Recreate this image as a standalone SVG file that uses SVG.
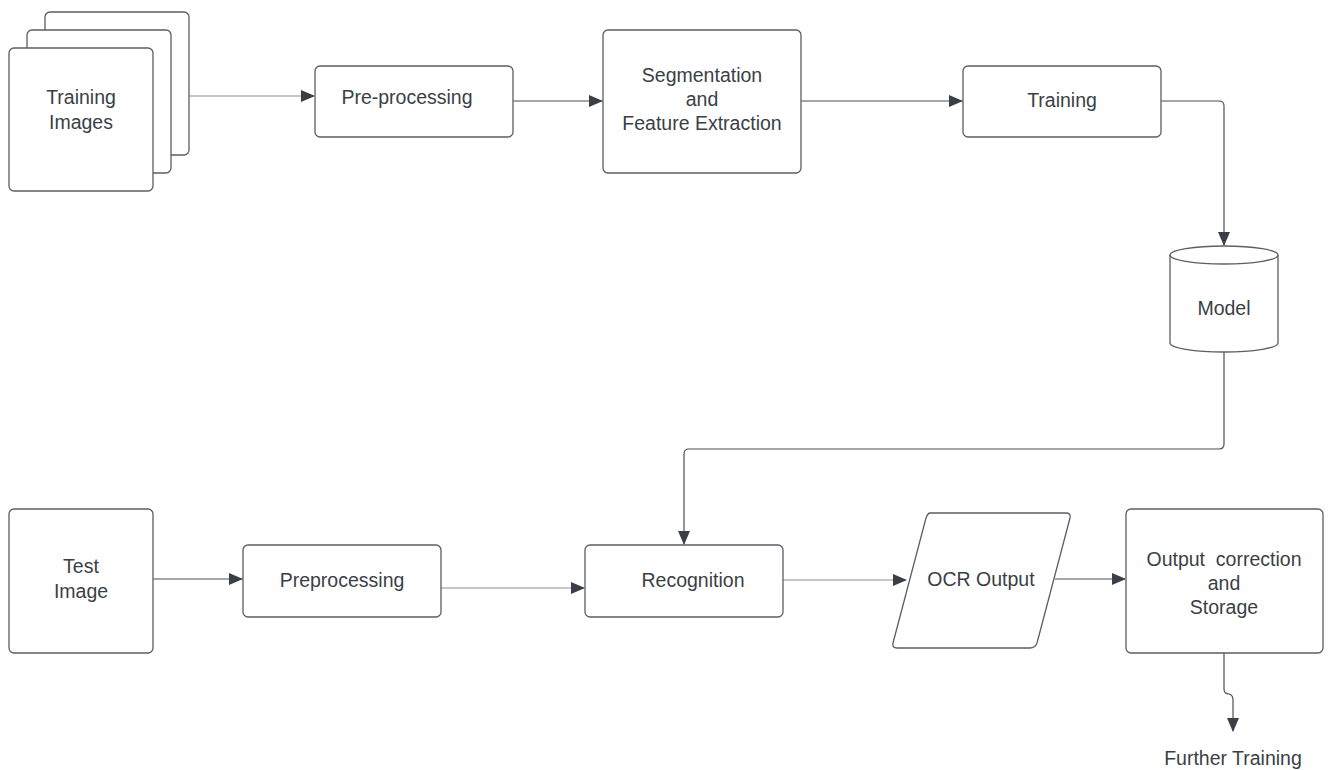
<svg xmlns="http://www.w3.org/2000/svg" width="1328" height="770" viewBox="0 0 1328 770">
<defs>
<style>
.box{fill:#fff;stroke:#5a5e66;stroke-width:1.3}
.t{font-family:"Liberation Sans",Arial,sans-serif;font-size:19.5px;fill:#3a3f47;text-anchor:middle}
.c{fill:none;stroke:#4a4f57;stroke-width:1.2}
.ct{fill:none;stroke:#8a8e95;stroke-width:1.2}
</style>
<marker id="ah" markerWidth="14" markerHeight="12" refX="13" refY="6" orient="auto" markerUnits="userSpaceOnUse">
<path d="M0,0 L14,6 L0,12 Z" fill="#3a3f47"/>
</marker>
</defs>
<rect width="1328" height="770" fill="#fff"/>
<g id="connectors">
<path class="ct" d="M189,96 H314" marker-end="url(#ah)"/>
<path class="c" d="M513,101 H602" marker-end="url(#ah)"/>
<path class="c" d="M801,101 H962" marker-end="url(#ah)"/>
<path class="c" d="M1161,101 H1219 Q1224,101 1224,106 V245" marker-end="url(#ah)"/>
<path class="c" d="M1224,352 V444 Q1224,449 1219,449 H689 Q684,449 684,454 V544" marker-end="url(#ah)"/>
<path class="c" d="M153,579 H242" marker-end="url(#ah)"/>
<path class="ct" d="M441,588 H584" marker-end="url(#ah)"/>
<path class="ct" d="M783,580 H906" marker-end="url(#ah)"/>
<path class="c" d="M1055,579 H1125" marker-end="url(#ah)"/>
<path class="c" d="M1224,653 V689 Q1224,694 1229,694 Q1233,695 1233,700 V731" marker-end="url(#ah)"/>
</g>
<g id="training-images">
<rect class="box" x="45" y="12" width="144" height="143" rx="5"/>
<rect class="box" x="27" y="30" width="144" height="143" rx="5"/>
<rect class="box" x="9" y="48" width="144" height="143" rx="5"/>
<text class="t" x="81" y="104">Training</text>
<text class="t" x="81" y="129">Images</text>
</g>
<g id="pre-processing">
<rect class="box" x="315" y="66" width="198" height="71" rx="5"/>
<text class="t" x="407" y="104">Pre-processing</text>
</g>
<g id="segmentation">
<rect class="box" x="603" y="30" width="198" height="143" rx="5"/>
<text class="t" x="702" y="82">Segmentation</text>
<text class="t" x="702" y="106">and</text>
<text class="t" x="702" y="130">Feature Extraction</text>
</g>
<g id="training">
<rect class="box" x="963" y="66" width="198" height="71" rx="5"/>
<text class="t" x="1062" y="107">Training</text>
</g>
<g id="model">
<path class="box" d="M1170,255 V343 A54,9 0 0 0 1278,343 V255"/>
<ellipse class="box" cx="1224" cy="255" rx="54" ry="9"/>
<text class="t" x="1224" y="315">Model</text>
</g>
<g id="test-image">
<rect class="box" x="9" y="509" width="144" height="144" rx="5"/>
<text class="t" x="81" y="573">Test</text>
<text class="t" x="81" y="598">Image</text>
</g>
<g id="preprocessing">
<rect class="box" x="243" y="545" width="198" height="72" rx="5"/>
<text class="t" x="342" y="587">Preprocessing</text>
</g>
<g id="recognition">
<rect class="box" x="585" y="545" width="198" height="72" rx="5"/>
<text class="t" x="693" y="587">Recognition</text>
</g>
<g id="ocr-output">
<path class="box" d="M930,513 H1066 Q1071,513 1070,518 L1037,643 Q1035,648 1030,648 H897 Q892,648 893,643 L926,518 Q928,513 930,513 Z"/>
<text class="t" x="981" y="586">OCR Output</text>
</g>
<g id="output-correction">
<rect class="box" x="1126" y="509" width="197" height="144" rx="5"/>
<text class="t" x="1224" y="566" xml:space="preserve">Output  correction</text>
<text class="t" x="1224" y="590">and</text>
<text class="t" x="1224" y="614">Storage</text>
</g>
<g id="further-training">
<text class="t" x="1233" y="765">Further Training</text>
</g>
</svg>
